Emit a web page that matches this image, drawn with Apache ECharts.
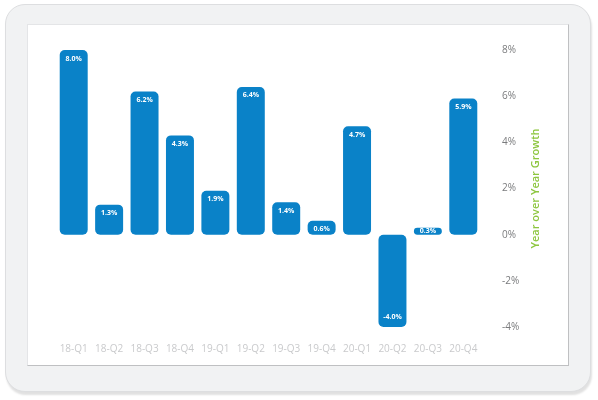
<!DOCTYPE html>
<html lang="en">
<head>
    <meta charset="UTF-8">
    <title>Year over Year Growth</title>
    <style>
        html, body { margin: 0; padding: 0; background: #fff; }
        body { width: 598px; height: 400px; position: relative; overflow: hidden; }
        .frame {
            position: absolute; left: 5px; top: 4px; width: 584px; height: 386px;
            border-radius: 20px; background: #f1f2f3; border: 1px solid #dddee0;
            box-shadow: 1px 3px 2px rgba(0,0,0,0.12);
        }
        .screen {
            position: absolute; left: 27px; top: 24px; width: 540px; height: 340px;
            background: #fff; border: 1px solid #e4e5e7;
            border-right-color: #bfc0c2; border-bottom-color: #bfc0c2;
        }
        #chart { position: absolute; left: 0; top: 0; width: 598px; height: 400px; }
    </style>
</head>
<body>
<div class="frame"></div>
<div class="screen"></div>
<div id="chart"></div>

<script src="https://cdn.jsdelivr.net/npm/echarts@6/dist/echarts.min.js"></script>
<script>
    var quarters = ['18-Q1', '18-Q2', '18-Q3', '18-Q4', '19-Q1', '19-Q2', '19-Q3', '19-Q4', '20-Q1', '20-Q2', '20-Q3', '20-Q4'];
    var growth = [8.0, 1.3, 6.2, 4.3, 1.9, 6.4, 1.4, 0.6, 4.7, -4.0, 0.3, 5.9];
    var yTicks = [-4, -2, 0, 2, 4, 6, 8];

    var chart = echarts.init(document.getElementById('chart'), null, {renderer: 'canvas'});

    // small bars keep the label centred, negative ones put it at the bottom
    var barData = growth.map(function (v) {
        var item = {value: v};
        if (v < 0) {
            item.label = {position: 'insideBottom', distance: 7};
        } else if (v < 0.5) {
            item.label = {position: 'inside'};
        }
        return item;
    });

    chart.setOption({
        backgroundColor: 'transparent',
        animation: false,
        grid: {left: 56, right: 117, top: 50, bottom: 73},
        xAxis: {
            type: 'category',
            data: quarters,
            axisLine: {show: false},
            axisTick: {show: false},
            axisLabel: {interval: 0, color: '#c9cacc', fontSize: 10, margin: 17, fontFamily: 'Open Sans'}
        },
        yAxis: {
            type: 'value',
            position: 'right',
            min: yTicks[0],
            max: yTicks[yTicks.length - 1],
            interval: 2,
            splitLine: {show: false},
            axisLine: {show: false},
            axisTick: {show: false},
            axisLabel: {
                color: '#7a7b7d', fontSize: 10, margin: 21, fontFamily: 'Open Sans',
                formatter: '{value}%'
            },
            name: 'Year over Year Growth',
            nameLocation: 'middle',
            nameGap: 40,
            nameRotate: 90,
            nameTextStyle: {color: '#8dc63f', fontSize: 11, fontWeight: 600, fontFamily: 'Open Sans'}
        },
        series: [{
            type: 'bar',
            data: barData,
            barWidth: '79%',
            itemStyle: {color: '#0a82c8', borderRadius: 5},
            label: {
                show: true,
                position: 'insideTop',
                distance: 5,
                color: '#fff',
                fontSize: 7,
                fontWeight: 'bold',
                fontFamily: 'Open Sans',
                formatter: function (p) { return p.value.toFixed(1) + '%'; }
            }
        }]
    });
</script>
</body>
</html>
